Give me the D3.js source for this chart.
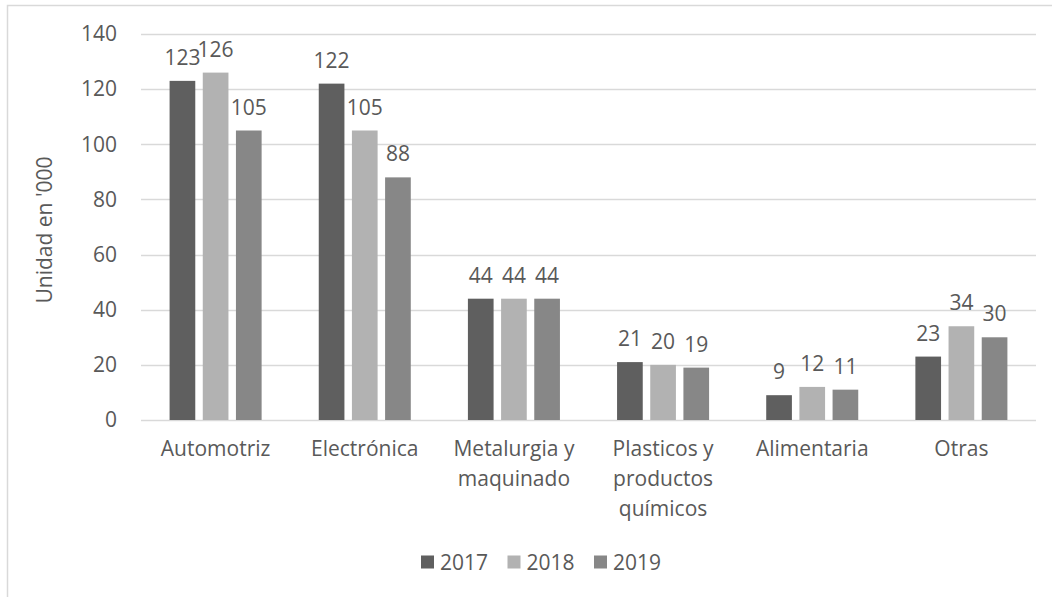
<!DOCTYPE html>
<html>
<head>
<meta charset="utf-8">
<script src="https://cdn.jsdelivr.net/npm/d3@7"></script>
<style>
  html, body { margin: 0; padding: 0; background: #ffffff; }
  svg { display: block; }
  text { font-family: "Open Sans", "Liberation Sans", sans-serif; fill: #595959; }
</style>
</head>
<body>
<svg id="chart" width="1052" height="597"></svg>
<script>
// Units (thousands) by industry sector and year
const categories = ["Automotriz", "Electrónica", "Metalurgia y maquinado", "Plasticos y productos químicos", "Alimentaria", "Otras"];
const years = ["2017", "2018", "2019"];
const values2017 = [123, 122, 44, 21, 9, 23];
const values2018 = [126, 105, 44, 20, 12, 34];
const values2019 = [105, 88, 44, 19, 11, 30];
const yTicks = [0, 20, 40, 60, 80, 100, 120, 140];
const yTitle = "Unidad en '000";

const seriesValues = [values2017, values2018, values2019];
const colors = ["#5f5f5f", "#b2b2b2", "#878787"];
const fontSize = 21;

const svg = d3.select("#chart");

// chart frame (runs off the right and bottom edges)
svg.append("rect")
  .attr("x", 7.5).attr("y", 5.5)
  .attr("width", 1200).attr("height", 700)
  .attr("fill", "none").attr("stroke", "#d9d9d9").attr("stroke-width", 1.5);

const plot = { left: 141, right: 1036, top: 34, bottom: 420 };

const y = d3.scaleLinear().domain([0, 140]).range([plot.bottom, plot.top]);
const x0 = d3.scaleBand().domain(categories).range([plot.left, plot.right])
  .paddingInner(0.383).paddingOuter(0.1917);
const x1 = d3.scaleBand().domain(years).range([0, x0.bandwidth()])
  .paddingInner(0.226).paddingOuter(0);
const color = d3.scaleOrdinal().domain(years).range(colors);

// gridlines
svg.append("g").selectAll("line").data(yTicks).join("line")
  .attr("x1", plot.left).attr("x2", plot.right)
  .attr("y1", d => Math.round(y(d)) + 0.5).attr("y2", d => Math.round(y(d)) + 0.5)
  .attr("stroke", "#d9d9d9").attr("stroke-width", 1.5);

// y axis labels
const yAxis = d3.axisLeft(y).tickValues(yTicks).tickSize(0).tickPadding(0);
const gy = svg.append("g").attr("transform", "translate(117,0)").call(yAxis);
gy.select(".domain").remove();
gy.selectAll("text").style("font-size", fontSize + "px").attr("fill", "#595959")
  .style("font-family", "'Open Sans', sans-serif");

// y axis title
svg.append("text")
  .attr("transform", "translate(44,230) rotate(-90)")
  .attr("text-anchor", "middle").attr("dominant-baseline", "central")
  .style("font-size", fontSize + "px")
  .text(yTitle);

// bars
const rows = categories.map((c, i) => ({ cat: c, vals: years.map((yr, k) => ({ year: yr, value: seriesValues[k][i] })) }));
const groups = svg.append("g").selectAll("g").data(rows).join("g")
  .attr("transform", d => `translate(${x0(d.cat)},0)`);

groups.selectAll("rect").data(d => d.vals).join("rect")
  .attr("x", d => x1(d.year))
  .attr("y", d => y(d.value))
  .attr("width", x1.bandwidth())
  .attr("height", d => y(0) - y(d.value))
  .attr("fill", d => color(d.year));

// data labels
groups.selectAll("text.val").data(d => d.vals).join("text")
  .attr("class", "val")
  .attr("x", d => x1(d.year) + x1.bandwidth() / 2)
  .attr("y", d => y(d.value) - 24)
  .attr("text-anchor", "middle").attr("dominant-baseline", "central")
  .style("font-size", fontSize + "px")
  .text(d => d.value);

// category labels, wrapped to the band width
const xAxis = d3.axisBottom(x0).tickSize(0).tickPadding(0);
const gx = svg.append("g").attr("transform", `translate(0,${plot.bottom})`).call(xAxis);
gx.select(".domain").remove();
gx.selectAll("text")
  .style("font-size", fontSize + "px").style("font-family", "'Open Sans', sans-serif")
  .attr("fill", "#595959")
  .attr("dy", null).attr("y", 0)
  .each(function (d) {
    const t = d3.select(this);
    const words = d.split(" ");
    t.text(null);
    const lines = [];
    let line = [];
    const probe = t.append("tspan");
    for (const w of words) {
      const attempt = line.concat([w]).join(" ");
      probe.text(attempt);
      if (probe.node().getComputedTextLength() > 135 && line.length) {
        lines.push(line.join(" "));
        line = [w];
      } else {
        line.push(w);
      }
    }
    lines.push(line.join(" "));
    probe.remove();
    lines.forEach((l, i) => {
      t.append("tspan").attr("x", 0).attr("y", 28 + i * 30)
        .attr("dominant-baseline", "central").text(l);
    });
  });

// legend
const legendX = [421, 507.5, 594];
const legend = svg.append("g").selectAll("g").data(years).join("g")
  .attr("transform", (d, i) => `translate(${legendX[i]},562)`);
legend.append("rect").attr("x", 0).attr("y", -6.5).attr("width", 13).attr("height", 13)
  .attr("fill", d => color(d));
legend.append("text").attr("x", 19).attr("y", 0).attr("dominant-baseline", "central")
  .style("font-size", fontSize + "px").text(d => d);
</script>
</body>
</html>
